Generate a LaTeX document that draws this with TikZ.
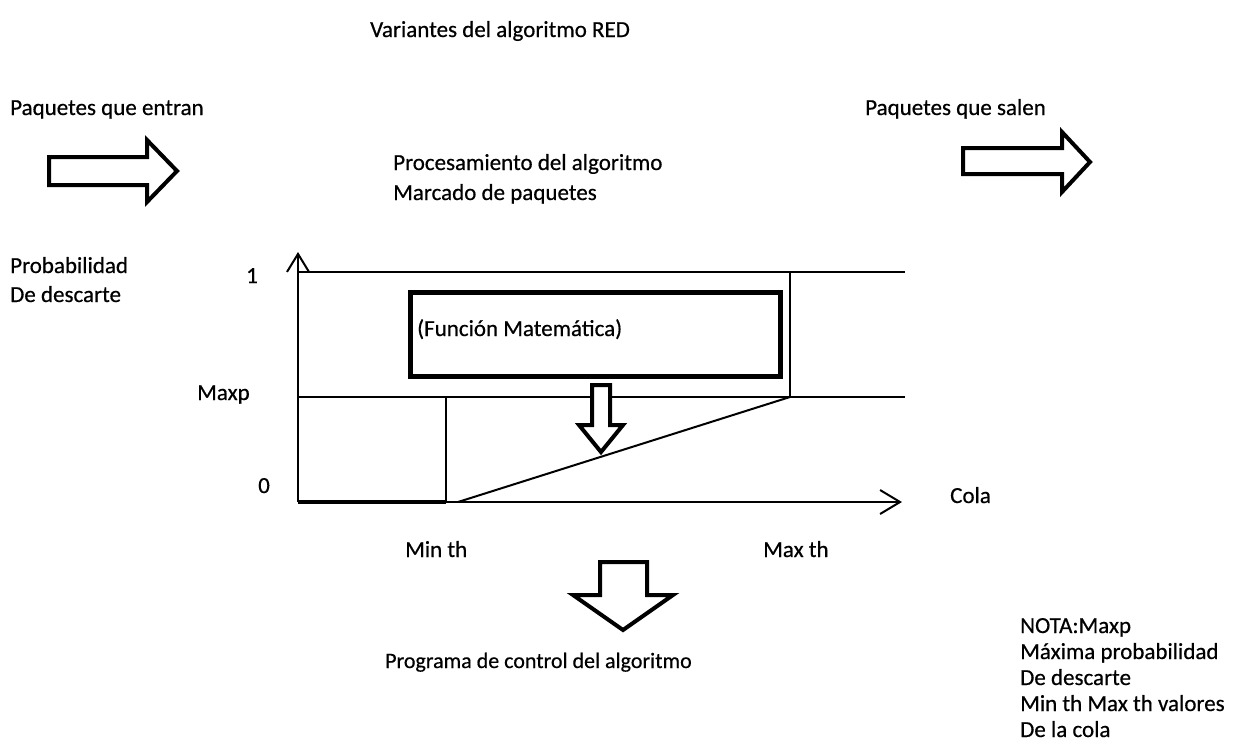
\documentclass[tikz,border=0pt]{standalone}
\usepackage{fontspec}
\setmainfont{Carlito}[FakeBold=0.5]
\usetikzlibrary{arrows.meta}
\tikzset{
  lbl/.style={inner sep=0pt, anchor=base west, font=\fontsize{23}{28}\selectfont},
  thin/.style={line width=2},
  hollow/.style={line width=4, line join=miter, fill=white},
  axisarrow/.style={-{Straight Barb[length=20,width=24,line width=2]}}
}
\begin{document}
\begin{tikzpicture}[x=1pt,y=-1pt]
\useasboundingbox (0,0) rectangle (1242,747);
% texts
\node[lbl] (title) at (370,37) {Variantes del algoritmo RED};
\node[lbl] (in) at (10,115) {Paquetes que entran};
\node[lbl] (out) at (865,115) {Paquetes que salen};
\node[lbl] (proc) at (393,170) {Procesamiento del algoritmo};
\node[lbl] (marc) at (393,200) {Marcado de paquetes};
\node[lbl] (prob) at (10,273) {Probabilidad};
\node[lbl] (desc) at (10,302) {De descarte};
\node[lbl] (one) at (246,283) {1};
\node[lbl] (maxp) at (197,400) {Maxp};
\node[lbl] (zero) at (258,493) {0};
\node[lbl] (cola) at (950,503) {Cola};
\node[lbl] (minth) at (405,557) {Min th};
\node[lbl] (maxth) at (763,557) {Max th};
\node[lbl, font=\fontsize{22}{26}\selectfont] (prog) at (385,668) {Programa de control del algoritmo};
\node[lbl] (n1) at (1020,633) {NOTA:Maxp};
\node[lbl] (n2) at (1020,659) {Máxima probabilidad};
\node[lbl] (n3) at (1020,685) {De descarte};
\node[lbl] (n4) at (1020,711) {Min th Max th valores};
\node[lbl] (n5) at (1020,737) {De la cola};
% hollow arrows
\draw[hollow] (49,157) -- (147,157) -- (147,140) -- (177,171) -- (147,202) -- (147,185) -- (49,185) -- cycle;
\draw[hollow] (963,148) -- (1062,148) -- (1062,132) -- (1090,162) -- (1062,192) -- (1062,174) -- (963,174) -- cycle;
\draw[hollow] (600,562) -- (647,562) -- (647,595) -- (673,595) -- (623,630) -- (573,595) -- (600,595) -- cycle;
% graph
\coordinate (O) at (298,502);
\coordinate (Ytop) at (298,252);
\coordinate (Xend) at (902,502);
\coordinate (T0) at (298,272);
\coordinate (T1) at (905,272);
\coordinate (M0) at (298,397);
\coordinate (M1) at (905,397);
\coordinate (Vt) at (790,272);
\coordinate (Vb) at (790,397);
\coordinate (Mint) at (446,397);
\coordinate (Minb) at (446,502);
\coordinate (D0) at (458,502);
\draw[thin] (T0) -- (T1);
\draw[thin] (M0) -- (M1);
\draw[thin] (Vt) -- (Vb);
\draw[thin] (Mint) -- (Minb);
\draw[thin] (D0) -- (Vb);
\draw[thin, -{Straight Barb[length=18,width=22,line width=2]}] (O) -- (Ytop);
\draw[thin, axisarrow] (O) -- (Xend);
\draw[line width=4] (O) -- (Minb);
% function box
\draw[line width=5] (410,292) rectangle (780,376);
\node[lbl] (func) at (417,336) {(Función Matemática)};
% small hollow arrow
\draw[hollow] (592,385) -- (610,385) -- (610,425) -- (623,425) -- (601,452) -- (579,425) -- (592,425) -- cycle;
\end{tikzpicture}
\end{document}
